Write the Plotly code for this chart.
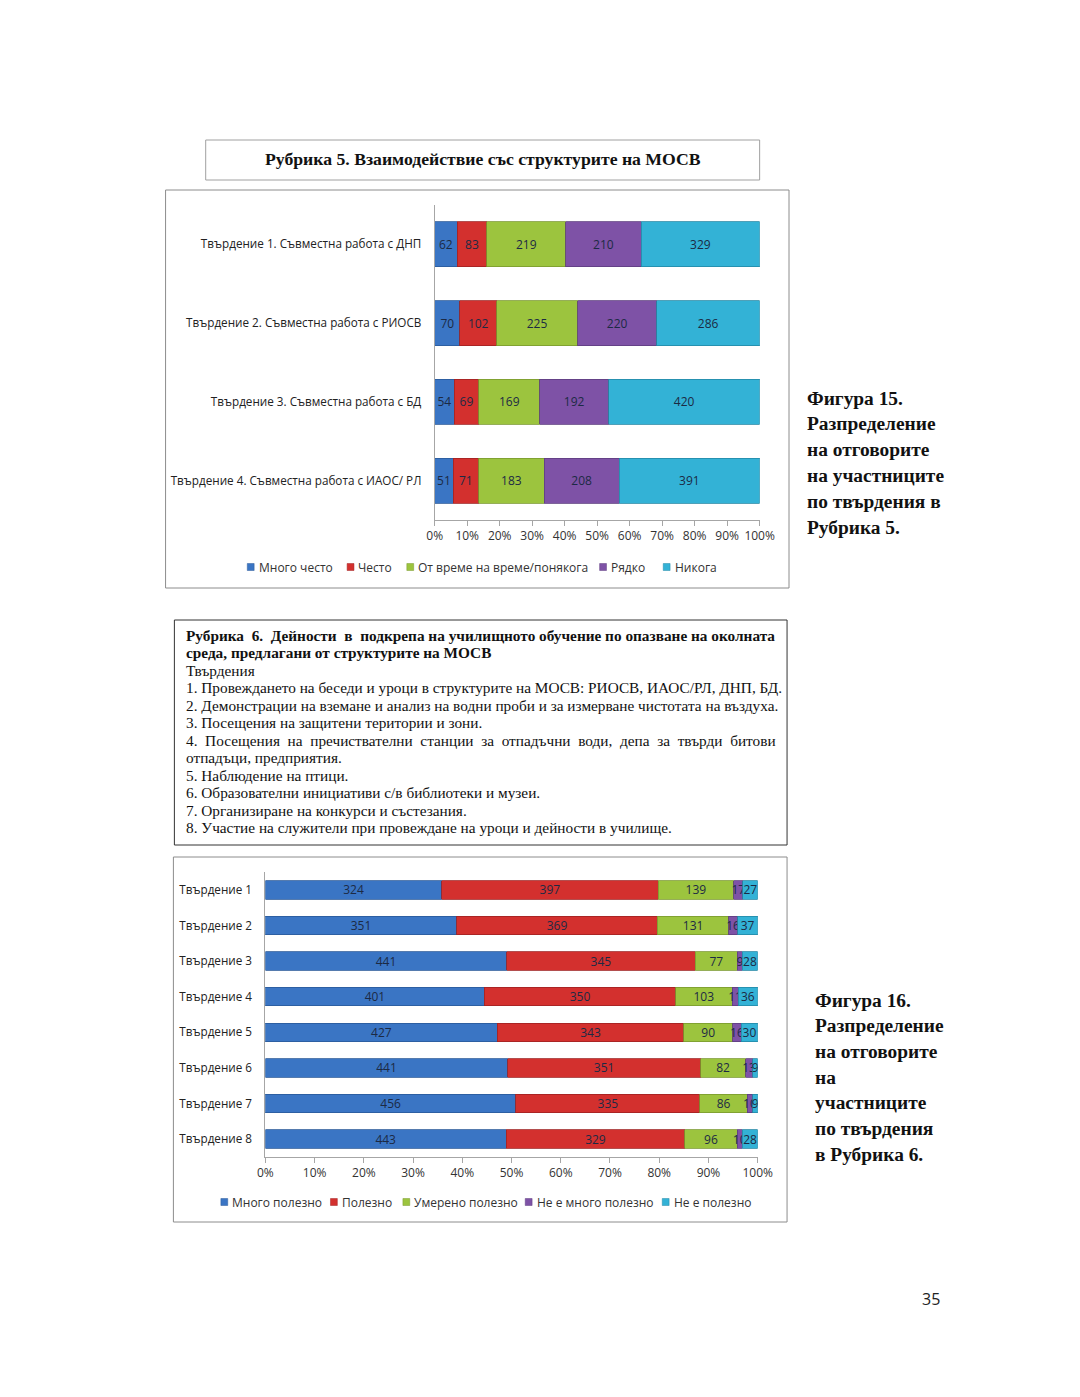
import plotly.graph_objects as go

W, H = 1080, 1397

# ---------------- Data: Рубрика 5 ----------------
cats1 = [
    "Твърдение 1. Съвместна работа с ДНП",
    "Твърдение 2. Съвместна работа с РИОСВ",
    "Твърдение 3. Съвместна работа с БД",
    "Твърдение 4. Съвместна работа с ИАОС/ РЛ",
]
names1 = ["Много често", "Често", "От време на време/понякога", "Рядко", "Никога"]
mnogo_chesto = [62, 70, 54, 51]
chesto = [83, 102, 69, 71]
ot_vreme_na_vreme = [219, 225, 169, 183]
ryadko = [210, 220, 192, 208]
nikoga = [329, 286, 420, 391]

# ---------------- Data: Рубрика 6 ----------------
cats2 = ["Твърдение 1", "Твърдение 2", "Твърдение 3", "Твърдение 4",
         "Твърдение 5", "Твърдение 6", "Твърдение 7", "Твърдение 8"]
names2 = ["Много полезно", "Полезно", "Умерено полезно", "Не е много полезно", "Не е полезно"]
mnogo_polezno = [324, 351, 441, 401, 427, 441, 456, 443]
polezno = [397, 369, 345, 350, 343, 351, 335, 329]
umereno_polezno = [139, 131, 77, 103, 90, 82, 86, 96]
ne_e_mnogo_polezno = [17, 16, 9, 11, 16, 13, 10, 10]
ne_e_polezno = [27, 37, 28, 36, 30, 9, 9, 28]

tick_vals = [0, 10, 20, 30, 40, 50, 60, 70, 80, 90, 100]
tick_text = [f"{v}%" for v in tick_vals]

colors = ["#3A75C4", "#D3302E", "#9CC43E", "#7E52A6", "#33B2D6"]
edges = ["#2A5A9A", "#A02222", "#7A9A2E", "#5E3D80", "#2388A6"]

SANS = "Open Sans"
SERIF = "Liberation Serif"


def px(x):
    return x / W


def py(y):
    return 1 - y / H


fig = go.Figure()

series1 = [mnogo_chesto, chesto, ot_vreme_na_vreme, ryadko, nikoga]
for name, vals, c, e in zip(names1, series1, colors, edges):
    fig.add_trace(go.Bar(
        y=cats1, x=vals, name=name, orientation="h", width=0.57,
        marker=dict(color=c, line=dict(color=e, width=0.8)),
        text=vals, textposition="inside", insidetextanchor="middle",
        textangle=0, textfont=dict(family=SANS, size=12, color="#1c2a44"),
        xaxis="x", yaxis="y", showlegend=False, hoverinfo="skip",
    ))

series2 = [mnogo_polezno, polezno, umereno_polezno, ne_e_mnogo_polezno, ne_e_polezno]
for name, vals, c, e in zip(names2, series2, colors, edges):
    fig.add_trace(go.Bar(
        y=cats2, x=vals, name=name, orientation="h", width=0.52,
        marker=dict(color=c, line=dict(color=e, width=0.8)),
        text=vals, textposition="inside", insidetextanchor="middle",
        textangle=0, textfont=dict(family=SANS, size=12, color="#1c2a44"),
        xaxis="x2", yaxis="y2", showlegend=False, hoverinfo="skip",
    ))

axis_common = dict(
    range=[0, 100], tickmode="array", tickvals=tick_vals, ticktext=tick_text,
    showgrid=False, zeroline=False, showline=True, linecolor="#a6a6a6", linewidth=1,
    ticks="outside", ticklen=5, tickcolor="#a6a6a6",
    tickfont=dict(family=SANS, size=12, color="#333333"), fixedrange=True,
)
yaxis_common = dict(
    autorange="reversed", showgrid=False, zeroline=False, showline=True,
    linecolor="#a6a6a6", linewidth=1, ticks="", fixedrange=True,
    tickfont=dict(family=SANS, size=11.7, color="#222222"),
)

fig.update_layout(
    width=W, height=H, margin=dict(l=0, r=0, t=0, b=0),
    paper_bgcolor="white", plot_bgcolor="white",
    barmode="stack", barnorm="percent",
    uniformtext=dict(minsize=12, mode="show"),
    xaxis=dict(domain=[px(436), px(768)], anchor="y", **axis_common),
    yaxis=dict(domain=[py(520), py(205)], anchor="x", ticklabelstandoff=10, **yaxis_common),
    xaxis2=dict(domain=[px(263), px(766)], anchor="y2", **axis_common),
    yaxis2=dict(domain=[py(1157), py(872)], anchor="x2", ticklabelstandoff=10, **yaxis_common),
    showlegend=False,
)

shapes = [
    dict(type="rect", xref="paper", yref="paper", x0=px(202), x1=px(768), y0=py(180), y1=py(140),
         line=dict(color="#a0a0a0", width=1), layer="below"),
    dict(type="rect", xref="paper", yref="paper", x0=px(161), x1=px(798), y0=py(588), y1=py(190),
         line=dict(color="#8c8c8c", width=1), layer="below"),
    dict(type="rect", xref="paper", yref="paper", x0=px(170), x1=px(796), y0=py(845), y1=py(620),
         line=dict(color="#333333", width=1), layer="below"),
    dict(type="rect", xref="paper", yref="paper", x0=px(169), x1=px(796), y0=py(1222), y1=py(857),
         line=dict(color="#8c8c8c", width=1), layer="below"),
]

ann = []


def txt(x, y, s, size, bold=False, family=SERIF, anchor="left", color="#111111"):
    ann.append(dict(xref="paper", yref="paper", x=px(x), y=py(y), text=(f"<b>{s}</b>" if bold else s),
                    showarrow=False, xanchor=anchor, yanchor="middle",
                    font=dict(family=family, size=size, color=color)))


# compact Office-style legends: small square + label
legend1_x = [248, 350, 411, 608, 673]
legend2_x = [221, 333, 407, 532, 672]
for names, xs, ly in ((names1, legend1_x, 567), (names2, legend2_x, 1202)):
    for name, x, c, e in zip(names, xs, colors, edges):
        shapes.append(dict(type="rect", xref="paper", yref="paper",
                           x0=px(x - 3.5), x1=px(x + 3.5), y0=py(ly + 3.5), y1=py(ly - 3.5),
                           fillcolor=c, line=dict(color=e, width=0.5)))
        txt(x + 6, ly, name, 12, family=SANS, color="#333333")

fig.update_layout(shapes=shapes)

txt(485, 159, "Рубрика 5. Взаимодействие със структурите на МОСВ", 17.7, bold=True, anchor="center")

cap15 = ["Фигура 15.", "Разпределение", "на отговорите", "на участниците", "по твърдения в", "Рубрика 5."]
for i, s in enumerate(cap15):
    txt(814, 398 + i * 25.8, s, 19.4, bold=True)

NB = "&nbsp;"
box_lines = [
    ("Рубрика 6. Дейности в подкрепа на училищното обучение по опазване на околната"
     .replace(" ", " " + NB, 4), True),
    ("среда, предлагани от структурите на МОСВ", True),
    ("Твърдения", False),
    ("1. Провеждането на беседи и уроци в структурите на МОСВ: РИОСВ, ИАОС/РЛ, ДНП, БД.", False),
    ("2. Демонстрации на вземане и анализ на водни проби и за измерване чистотата на въздуха.", False),
    ("3. Посещения на защитени територии и зони.", False),
    ("4. Посещения на пречиствателни станции за отпадъчни води, депа за твърди битови"
     .replace(" ", " " + NB), False),
    ("отпадъци, предприятия.", False),
    ("5. Наблюдение на птици.", False),
    ("6. Образователни инициативи с/в библиотеки и музеи.", False),
    ("7. Организиране на конкурси и състезания.", False),
    ("8. Участие на служители при провеждане на уроци и дейности в училище.", False),
]
for i, (s, b) in enumerate(box_lines):
    txt(180, 635.5 + i * 17.45, s, 15.3, bold=b)

cap16 = ["Фигура 16.", "Разпределение", "на отговорите", "на", "участниците", "по твърдения", "в Рубрика 6."]
for i, s in enumerate(cap16):
    txt(823, 1000 + i * 25.7, s, 19.4, bold=True)

txt(943, 1299, "35", 16, family=SANS, anchor="center", color="#222222")

fig.update_layout(annotations=ann)

post = ("document.documentElement.style.margin='0';document.body.style.margin='0';"
        "document.body.style.padding='0';document.body.style.overflow='hidden';"
        "document.documentElement.style.overflow='hidden';")
fig.write_html("out.html", post_script=post, config={"displayModeBar": False})
